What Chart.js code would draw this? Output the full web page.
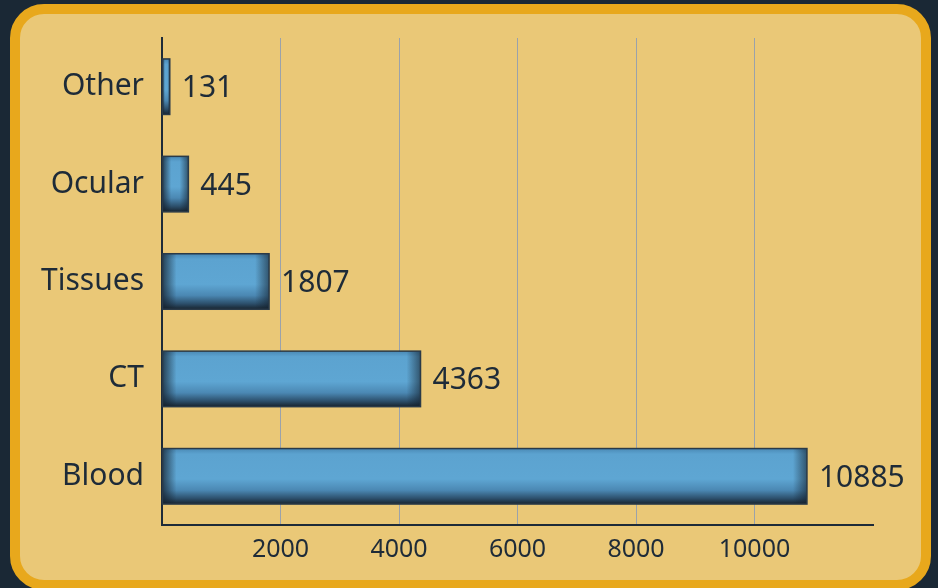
<!DOCTYPE html>
<html lang="en">
<head>
  <meta charset="UTF-8" />
  <title>Bars</title>
  <script src="https://cdn.jsdelivr.net/npm/chart.js"></script>
  <style>
    body {
      margin: 0;
      width: 938px;
      height: 588px;
      overflow: hidden;
      background: #1a2835;
      position: relative;
    }

    #panel {
      position: absolute;
      left: 10px;
      top: 4px;
      width: 901px;
      height: 566px;
      border: 10px solid #e8a81c;
      border-radius: 34px;
      background: #eac877;
    }

    #barChart {
      position: absolute;
      left: 0;
      top: 0;
    }
  </style>
</head>
<body>
  <div id="panel"></div>
  <canvas id="barChart" width="938" height="588"></canvas>

  <script>
    const categories = ['Other', 'Ocular', 'Tissues', 'CT', 'Blood'];
    const counts = [131, 445, 1807, 4363, 10885];
    const tickValues = [2000, 4000, 6000, 8000, 10000];

    const ink = '#1e2b38';
    const barPct = 0.57;

    function barFill(ctx) {
      const chart = ctx.chart;
      const y = chart.scales.y;
      if (!y || !chart.chartArea) return '#5aa2cf';
      const c = y.getPixelForValue(ctx.dataIndex);
      const h = (y.height / categories.length) * barPct / 2;
      const g = chart.ctx.createLinearGradient(0, c - h, 0, c + h);
      g.addColorStop(0, '#4a89b5');
      g.addColorStop(0.1, '#5ca3d0');
      g.addColorStop(0.55, '#5ea6d3');
      g.addColorStop(0.75, '#4b88b3');
      g.addColorStop(0.9, '#2c4f6b');
      g.addColorStop(1, '#18242f');
      return g;
    }

    // darken left and right ends of bars for the bevel look
    const bevel = {
      id: 'bevel',
      afterDatasetDraw(chart) {
        const c = chart.ctx;
        c.save();
        chart.getDatasetMeta(0).data.forEach(bar => {
          const left = Math.min(bar.base, bar.x);
          const right = Math.max(bar.base, bar.x);
          const top = bar.y - bar.height / 2;
          const w = right - left;
          const e = Math.min(14, w / 3);
          let g = c.createLinearGradient(left, 0, left + e, 0);
          g.addColorStop(0, 'rgba(20,32,44,0.75)');
          g.addColorStop(1, 'rgba(20,32,44,0)');
          c.fillStyle = g;
          c.fillRect(left, top, e, bar.height);
          g = c.createLinearGradient(right - e, 0, right, 0);
          g.addColorStop(0, 'rgba(20,32,44,0)');
          g.addColorStop(1, 'rgba(20,32,44,0.6)');
          c.fillStyle = g;
          c.fillRect(right - e, top, e, bar.height);
          c.strokeStyle = '#2a3a48';
          c.lineWidth = 1.5;
          c.strokeRect(left, top, w, bar.height);
        });
        c.restore();
      }
    };

    const valueLabels = {
      id: 'valueLabels',
      afterDraw(chart) {
        const c = chart.ctx;
        c.save();
        c.font = '30px "Noto Sans"';
        c.fillStyle = ink;
        c.textAlign = 'left';
        c.textBaseline = 'middle';
        chart.getDatasetMeta(0).data.forEach((bar, i) => {
          c.fillText(String(counts[i]), bar.x + 12, bar.y + 2);
        });
        c.restore();
      }
    };

    new Chart(document.getElementById('barChart'), {
      type: 'bar',
      data: {
        labels: categories,
        datasets: [{
          data: counts,
          backgroundColor: barFill,
          borderWidth: 0,
          barPercentage: barPct,
          categoryPercentage: 1
        }]
      },
      options: {
        indexAxis: 'y',
        responsive: false,
        animation: false,
        events: [],
        layout: { padding: { top: 38, right: 65, left: 0, bottom: 0 } },
        plugins: {
          legend: { display: false },
          tooltip: { enabled: false }
        },
        scales: {
          x: {
            min: 0,
            max: 12000,
            z: 1,
            afterBuildTicks: axis => {
              axis.ticks = [0].concat(tickValues, [12000]).map(v => ({ value: v }));
            },
            ticks: {
              color: ink,
              font: { family: 'Noto Sans', size: 25 },
              padding: 10,
              maxRotation: 0,
              callback: v => (tickValues.includes(v) ? String(v) : '')
            },
            grid: {
              drawTicks: false,
              color: ctx => (ctx.tick && tickValues.includes(ctx.tick.value) ? 'rgba(140,155,180,0.85)' : 'rgba(0,0,0,0)'),
              lineWidth: 1
            },
            border: { color: ink, width: 2 },
            afterFit: s => { s.height = 63; }
          },
          y: {
            ticks: {
              color: ink,
              font: { family: 'Noto Sans', size: 30 },
              padding: 18
            },
            grid: { display: false, drawTicks: false },
            border: { color: ink, width: 2 },
            afterFit: s => { s.width = 162; }
          }
        }
      },
      plugins: [bevel, valueLabels]
    });
  </script>
</body>
</html>
